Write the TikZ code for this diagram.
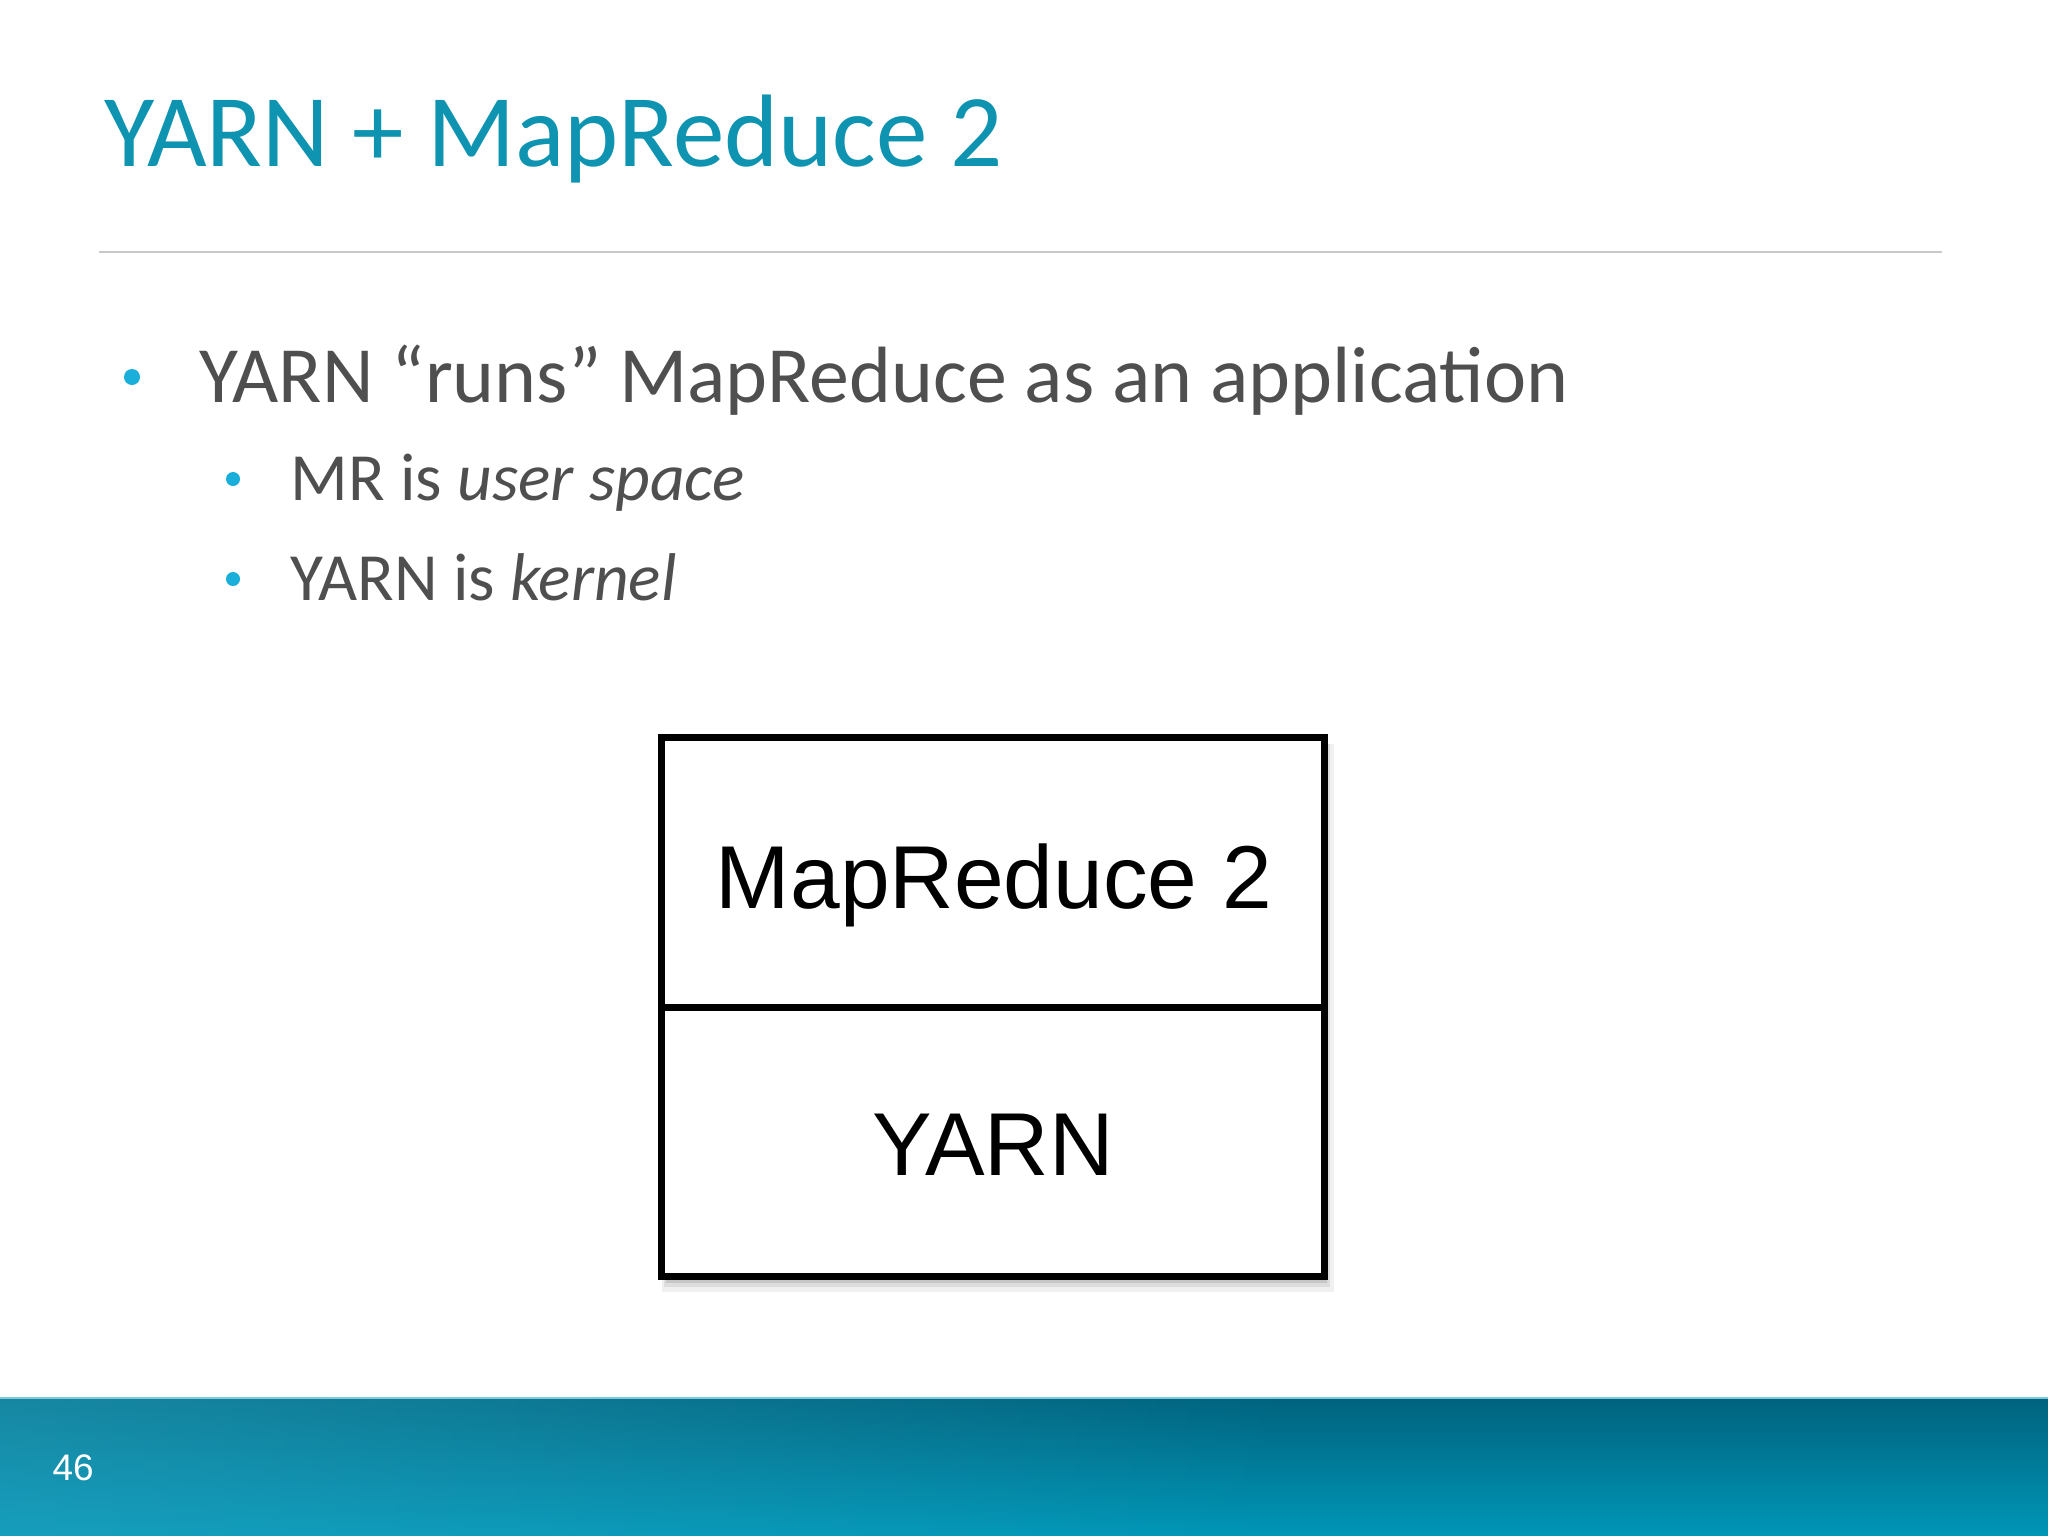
\documentclass[tikz,border=0pt]{standalone}
\usepackage{fontspec}
\setmainfont{Carlito}
\newfontfamily\helv{Liberation Sans}
\usetikzlibrary{fadings}
\definecolor{titleteal}{HTML}{0E93B0}
\definecolor{bodygray}{HTML}{4F4F4F}
\definecolor{bulletcyan}{HTML}{1AAEDA}
\definecolor{rulegray}{HTML}{C9C9C9}
\definecolor{foottop}{HTML}{00637E}
\definecolor{footbot}{HTML}{0096B7}
\definecolor{footlight}{HTML}{2AA6C2}
\tikzset{
  titletext/.style={anchor=base west, inner sep=0pt, text=titleteal, font=\fontsize{29.3}{34}\selectfont},
  lvlone/.style={anchor=base west, inner sep=0pt, text=bodygray, font=\fontsize{22.7}{27}\selectfont},
  lvltwo/.style={anchor=base west, inner sep=0pt, text=bodygray, font=\fontsize{19.2}{23}\selectfont},
  dotone/.style={circle, fill=bulletcyan, inner sep=0pt, minimum size=0.16cm},
  dottwo/.style={circle, fill=bulletcyan, inner sep=0pt, minimum size=0.14cm},
  layer/.style={rectangle, draw=black, line width=2pt, fill=white, minimum width=6.62cm, minimum height=2.69cm, inner sep=0pt},
  layertext/.style={anchor=base, inner sep=0pt, text=black, font=\helv\fontsize{25.4}{30}\selectfont},
}
\begin{document}
\begin{tikzpicture}[x=0.01cm, y=-0.01cm]
\useasboundingbox (0,0) rectangle (2048,1536);
\fill[white] (0,0) rectangle (2048,1536);
% title
\node[titletext] (title) at (104,166) {YARN + MapReduce 2};
\draw[rulegray, line width=0.6pt] (99,252) -- (1942,252);
% bullets
\node[dotone] (b1) at (132,377) {};
\node[lvlone] (t1) at (199,402) {YARN “runs” MapReduce as an application};
\node[dottwo] (b2) at (233,479) {};
\node[lvltwo] (t2) at (290,500) {MR is \textit{user space}};
\node[dottwo] (b3) at (233,579) {};
\node[lvltwo] (t3) at (290,600) {YARN is \textit{kernel}};
% stacked box with soft shadow
\fill[black, opacity=0.06] (662,744) rectangle (1334,1292);
\fill[black, opacity=0.08] (664,744) rectangle (1330,1287);
\fill[black, opacity=0.10] (666,744) rectangle (1327,1283);
\node[layer] (mr) at (993,872.5) {};
\node[layer] (yarn) at (993,1142) {};
\node[layertext] (mrlabel) at (994,908) {MapReduce 2};
\node[layertext] (yarnlabel) at (993,1175) {YARN};
% footer
\shade[top color=foottop, bottom color=footbot] (0,1398) rectangle (2048,1536);
\fill[footlight, path fading=east, opacity=0.55] (0,1398) rectangle (1300,1536);
\draw[footlight!60!white, line width=0.6pt] (0,1398) -- (2048,1398);
\node[anchor=base west, inner sep=0pt, text=white, font=\helv\fontsize{10.5}{13}\selectfont] (pagenum) at (52,1480) {46};
\end{tikzpicture}
\end{document}
